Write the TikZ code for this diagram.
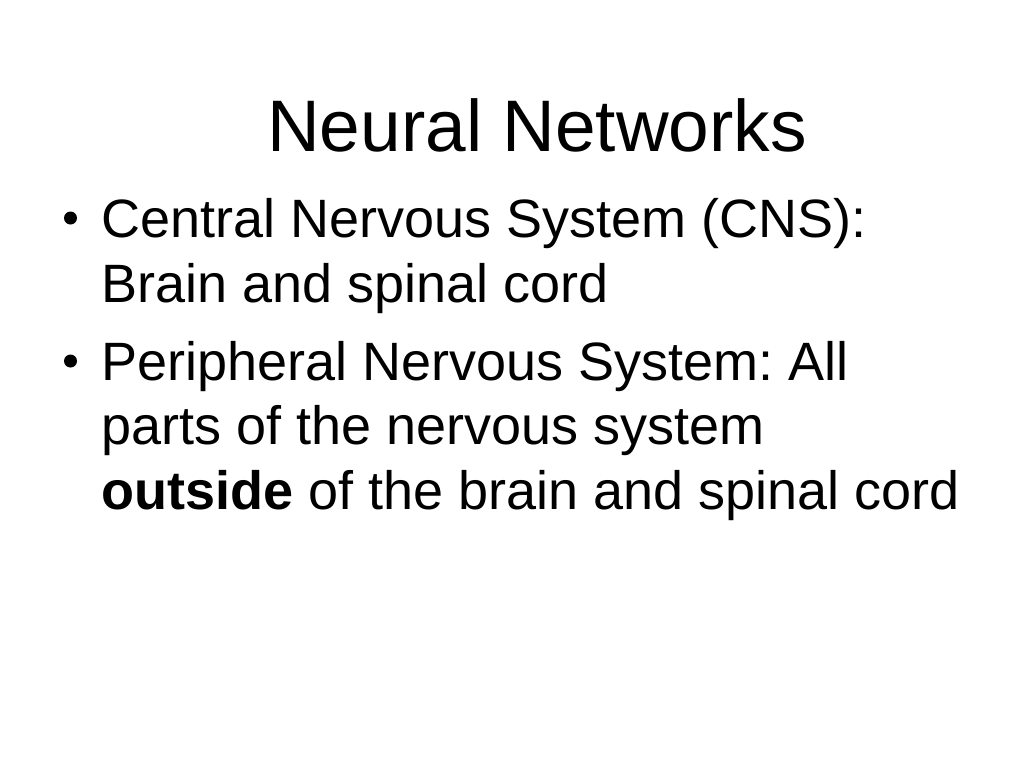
\documentclass[tikz,border=0pt]{standalone}
\usepackage{fontspec}
\setmainfont{Liberation Sans}
\usepackage{tikz}

\begin{document}
\frenchspacing
\begin{tikzpicture}[x=1pt,y=-1pt]
				\useasboundingbox[fill=white] (0,0) rectangle (1024,768);
				
				% title
				\node[anchor=base,inner sep=0pt] (title) at (537,151)
				{\fontsize{73}{80}\selectfont Neural Networks};
				
				% bullets
				\foreach \n/\y in {b1/218, b2/361}{
					\node[circle,fill,inner sep=0pt,minimum size=13] (\n) at (70.5,\y) {};
				}
				
				% lines of text
				\foreach \n/\y/\t in
				{l1/237/{Central Nervous System (CNS):},
				 l2/302/{Brain and spinal cord},
				 l3/380/{Peripheral Nervous System: All},
				 l4/444/{parts of the nervous system},
				 l5/509/{\textbf{outside} of the brain and spinal cord}}{
					\node[anchor=base west,inner sep=0pt] (\n) at (101,\y)
					{\fontsize{54}{60}\selectfont \t};
				}
\end{tikzpicture}
\end{document}
